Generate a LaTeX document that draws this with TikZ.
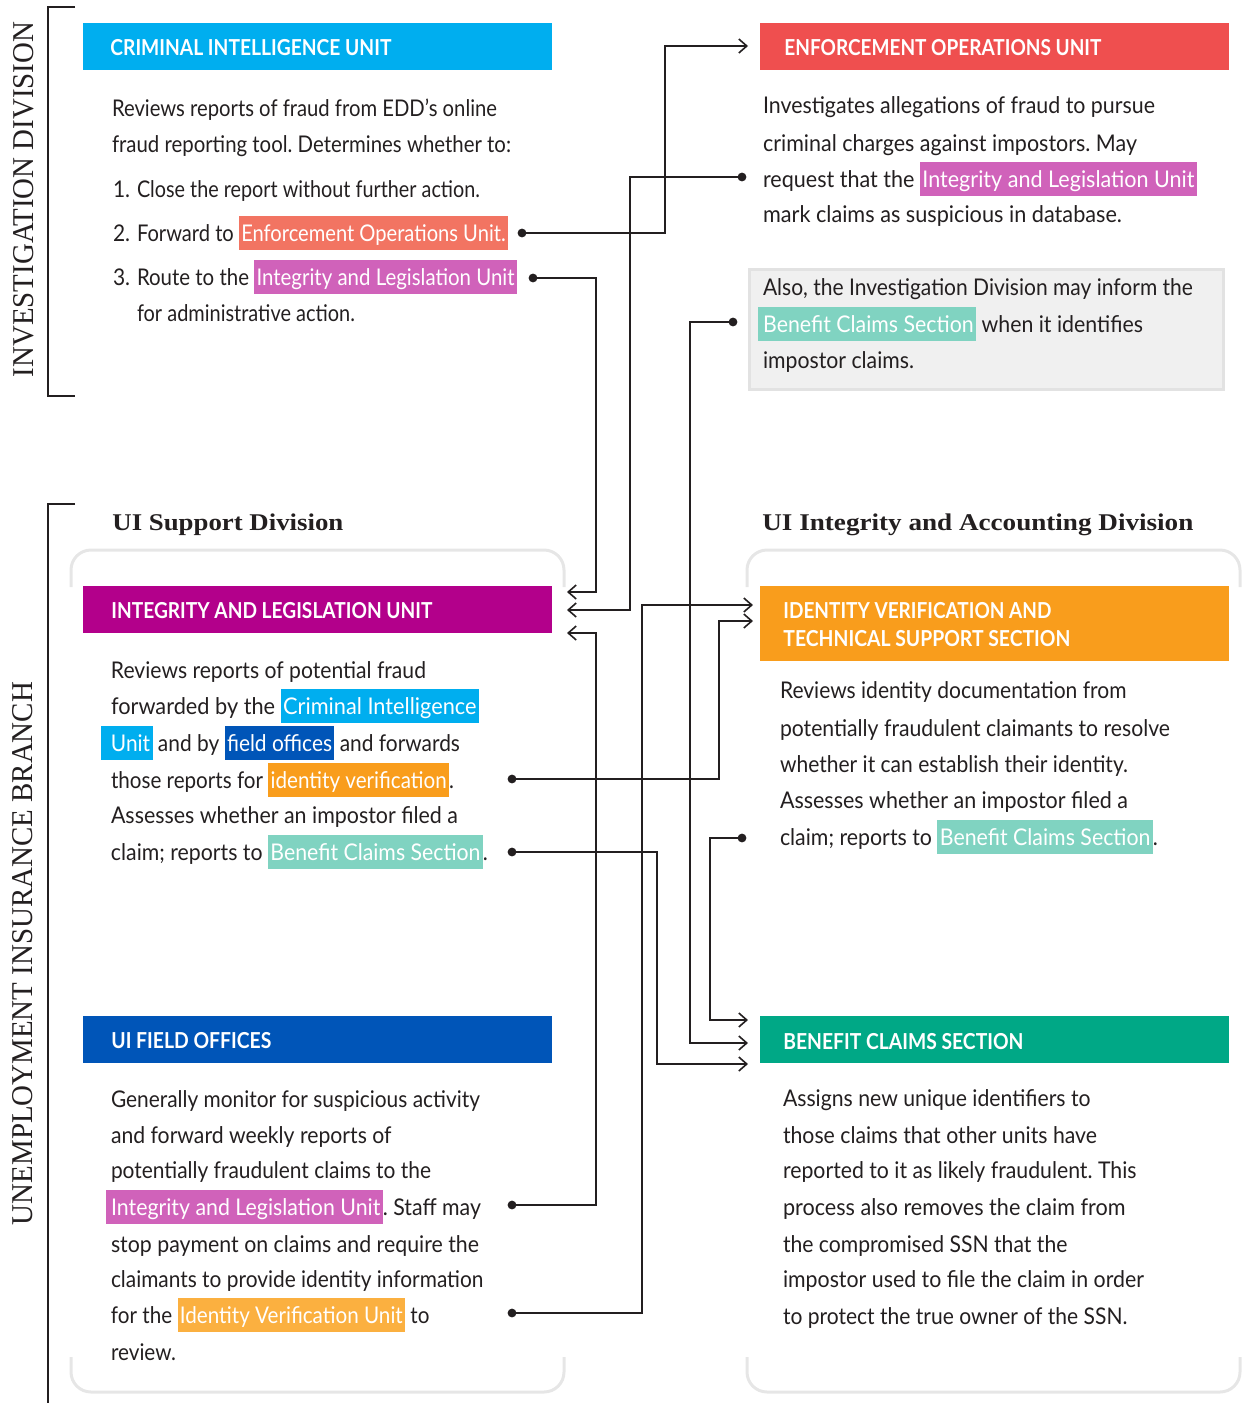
\documentclass[tikz,border=0pt]{standalone}
\usepackage{fontspec}
\usepackage{graphicx}
\usetikzlibrary{arrows.meta}
\newfontfamily\bodyfont[FakeStretch=0.91]{Lato}
\newfontfamily\headfont[FakeStretch=0.87]{Lato}
\newfontfamily\serifttl[FakeStretch=1.13]{Liberation Serif}
\newfontfamily\seriflbl{Liberation Serif}
\definecolor{ink}{HTML}{231F20}
\definecolor{cciu}{HTML}{00AEEF}
\definecolor{ceou}{HTML}{EF4F4F}
\definecolor{cilu}{HTML}{B3008B}
\definecolor{civs}{HTML}{F99D1C}
\definecolor{cfo}{HTML}{0055B8}
\definecolor{cbcs}{HTML}{00A886}
\definecolor{hlred}{HTML}{F27462}
\definecolor{hlmag}{HTML}{D062BA}
\definecolor{hlcyan}{HTML}{00AEEF}
\definecolor{hlblue}{HTML}{0055B8}
\definecolor{hlorange}{HTML}{F99D1C}
\definecolor{hlorangeb}{HTML}{FBB040}
\definecolor{hlmint}{HTML}{80D3C1}
\definecolor{graybr}{HTML}{E6E6E6}
\definecolor{alsofill}{HTML}{F0F0F0}
\definecolor{alsodraw}{HTML}{E2E2E2}
\newcommand\hl[3][1.2pt]{\begingroup\setlength{\fboxsep}{0pt}\colorbox{#2}{\rule[-4.5pt]{0pt}{17pt}\kern#1\textcolor{white}{#3}\kern1.2pt}\endgroup}
\newcommand\fitw[2]{\resizebox{#1}{\height}{#2}}
\begin{document}
\frenchspacing
\begin{tikzpicture}[x=0.5pt,y=-0.5pt,
  txt/.style={anchor=base west, inner sep=0pt, outer sep=0pt, text=ink, font=\bodyfont\fontsize{11.5}{14}\selectfont},
  hdrbox/.style={anchor=north west, inner sep=0pt, outer sep=0pt, minimum width=234.5pt, minimum height=23.5pt},
  hdrtxt/.style={anchor=base west, inner sep=0pt, text=white, font=\headfont\bfseries\fontsize{11}{14}\selectfont},
  divttl/.style={anchor=base west, inner sep=0pt, text=ink, font=\serifttl\bfseries\fontsize{12}{14}\selectfont},
  sidelbl/.style={rotate=90, inner sep=0pt, text=ink, font=\seriflbl},
  conn/.style={draw=ink, line width=0.8pt, -{Straight Barb[length=4pt,width=7pt]}},
  dotc/.style={fill=ink},
  grayb/.style={draw=graybr, line width=1.5pt, rounded corners=10pt},
  blackb/.style={draw=ink, line width=0.9pt}]
\useasboundingbox (0,0) rectangle (1246,1403);

% ---- side brackets and labels
\draw[blackb] (75,7) -- (48,7) -- (48,396) -- (75,396);
\draw[blackb] (75,504) -- (48,504) -- (48,1403);
\node[sidelbl] (lblinv) at (23.5,199.5) {\resizebox{177.5pt}{10pt}{INVESTIGATION DIVISION}};
\node[sidelbl] (lbluib) at (23,953.5) {\resizebox{271.5pt}{10pt}{UNEMPLOYMENT INSURANCE BRANCH}};

% ---- gray division brackets
\draw[grayb] (71,587) |- (564,550) -- (564,587);
\draw[grayb] (71,1357) |- (564,1392) -- (564,1357);
\draw[grayb] (747,587) |- (1240,550) -- (1240,587);
\draw[grayb] (747,1357) |- (1240,1392) -- (1240,1357);
\node[divttl] (ttlsup) at (112,530) {\fitw{115.5pt}{UI Support Division}};
\node[divttl] (ttlint) at (762,530) {\fitw{215.5pt}{UI Integrity and Accounting Division}};

% ---- headers
\node[hdrbox, fill=cciu] (ciuH) at (83,23) {};
\node[hdrtxt] (ciuT) at (110,55) {\fitw{140.5pt}{CRIMINAL INTELLIGENCE UNIT}};
\node[hdrbox, fill=ceou] (eouH) at (760,23) {};
\node[hdrtxt] (eouT) at (784,55) {\fitw{158.5pt}{ENFORCEMENT OPERATIONS UNIT}};
\node[hdrbox, fill=cilu] (iluH) at (83,586) {};
\node[hdrtxt] (iluT) at (111,618) {\fitw{160.5pt}{INTEGRITY AND LEGISLATION UNIT}};
\node[hdrbox, fill=civs, minimum height=37.5pt] (ivsH) at (760,586) {};
\node[hdrtxt] (ivsT1) at (783,618) {\fitw{134pt}{IDENTITY VERIFICATION AND}};
\node[hdrtxt] (ivsT2) at (783,646) {\fitw{143.5pt}{TECHNICAL SUPPORT SECTION}};
\node[hdrbox, fill=cfo] (foH) at (83,1016) {};
\node[hdrtxt] (foT) at (111,1048) {\fitw{80pt}{UI FIELD OFFICES}};
\node[hdrbox, fill=cbcs] (bcsH) at (760,1016) {};
\node[hdrtxt] (bcsT) at (783,1049) {\fitw{120pt}{BENEFIT CLAIMS SECTION}};

% ---- Also box
\node[anchor=north west, fill=alsofill, draw=alsodraw, line width=1.5pt, minimum width=237pt, minimum height=60pt, inner sep=0pt] (alsoBox) at (748,268) {};

% ---- CIU body
\node[txt] (ciu1) at (112,116) {\fitw{192.5pt}{Reviews reports of fraud from EDD’s online}};
\node[txt] (ciu2) at (112,152) {\fitw{199.5pt}{fraud reporting tool. Determines whether to:}};
\node[txt] (ciu3) at (113,197) {\makebox[12pt][l]{1.}\fitw{171.5pt}{Close the report without further action.}};
\node[txt] (ciu4) at (113,241) {\makebox[12pt][l]{2.}\fitw{185.5pt}{Forward to \hl{hlred}{Enforcement Operations Unit.}}};
\node[txt] (ciu5) at (113,285) {\makebox[12pt][l]{3.}\fitw{190pt}{Route to the \hl{hlmag}{Integrity and Legislation Unit}}};
\node[txt] (ciu6) at (137,321) {\fitw{109pt}{for administrative action.}};

% ---- EOU body
\node[txt] (eou1) at (763,113) {\fitw{196pt}{Investigates allegations of fraud to pursue}};
\node[txt] (eou2) at (763,151) {\fitw{187pt}{criminal charges against impostors. May}};
\node[txt] (eou3) at (763,187) {\fitw{217pt}{request that the \hl{hlmag}{Integrity and Legislation Unit}}};
\node[txt] (eou4) at (763,222) {\fitw{179.5pt}{mark claims as suspicious in database.}};

% ---- Also text
\node[txt] (also1) at (763,295) {\fitw{215pt}{Also, the Investigation Division may inform the}};
\node[txt] (also2) at (758,332) {\fitw{192.5pt}{\hl[2.5pt]{hlmint}{Benefit Claims Section} when it identifies}};
\node[txt] (also3) at (763,368) {\fitw{75.5pt}{impostor claims.}};

% ---- ILU body
\node[txt] (ilu1) at (111,678) {\fitw{157.5pt}{Reviews reports of potential fraud}};
\node[txt] (ilu2) at (111,714) {\fitw{184pt}{forwarded by the \hl{hlcyan}{Criminal Intelligence}}};
\node[txt] (ilu3) at (101,751) {\fitw{179.5pt}{\hl[5pt]{hlcyan}{Unit} and by \hl{hlblue}{field offices} and forwards}};
\node[txt] (ilu4) at (111,788) {\fitw{171.5pt}{those reports for \hl{hlorange}{identity verification}.}};
\node[txt] (ilu5) at (111,823) {\fitw{173.5pt}{Assesses whether an impostor filed a}};
\node[txt] (ilu6) at (111,860) {\fitw{188.5pt}{claim; reports to \hl{hlmint}{Benefit Claims Section}.}};

% ---- IVS body
\node[txt] (ivs1) at (780,698) {\fitw{173.25pt}{Reviews identity documentation from}};
\node[txt] (ivs2) at (780,736) {\fitw{195pt}{potentially fraudulent claimants to resolve}};
\node[txt] (ivs3) at (780,772) {\fitw{174pt}{whether it can establish their identity.}};
\node[txt] (ivs4) at (780,808) {\fitw{174pt}{Assesses whether an impostor filed a}};
\node[txt] (ivs5) at (780,845) {\fitw{189pt}{claim; reports to \hl{hlmint}{Benefit Claims Section}.}};

% ---- Field offices body
\node[txt] (fo1) at (111,1107) {\fitw{184.5pt}{Generally monitor for suspicious activity}};
\node[txt] (fo2) at (111,1143) {\fitw{140.25pt}{and forward weekly reports of}};
\node[txt] (fo3) at (111,1178) {\fitw{160pt}{potentially fraudulent claims to the}};
\node[txt] (fo4) at (106,1215) {\fitw{187.5pt}{\hl[2.5pt]{hlmag}{Integrity and Legislation Unit}. Staff may}};
\node[txt] (fo5) at (111,1252) {\fitw{184pt}{stop payment on claims and require the}};
\node[txt] (fo6) at (111,1287) {\fitw{186.25pt}{claimants to provide identity information}};
\node[txt] (fo7) at (111,1323) {\fitw{159.25pt}{for the \hl{hlorangeb}{Identity Verification Unit} to}};
\node[txt] (fo8) at (111,1360) {\fitw{32.5pt}{review.}};

% ---- BCS body
\node[txt] (bcs1) at (783,1106) {\fitw{153.8pt}{Assigns new unique identifiers to}};
\node[txt] (bcs2) at (783,1143) {\fitw{157pt}{those claims that other units have}};
\node[txt] (bcs3) at (783,1178) {\fitw{176.75pt}{reported to it as likely fraudulent. This}};
\node[txt] (bcs4) at (783,1215) {\fitw{171.3pt}{process also removes the claim from}};
\node[txt] (bcs5) at (783,1252) {\fitw{142.2pt}{the compromised SSN that the}};
\node[txt] (bcs6) at (783,1287) {\fitw{180.5pt}{impostor used to file the claim in order}};
\node[txt] (bcs7) at (783,1324) {\fitw{172.2pt}{to protect the true owner of the SSN.}};

% ---- connector end points
\coordinate (dCiuEou) at (522,233);
\coordinate (dCiuIlu) at (533,278);
\coordinate (dEou) at (742,177);
\coordinate (dAlso) at (733,322);
\coordinate (dIluIvs) at (512,779);
\coordinate (dIluBcs) at (512,852);
\coordinate (dIvs) at (742,838);
\coordinate (dFoIlu) at (512,1205);
\coordinate (dFoIvs) at (512,1313);
\coordinate (aEou) at (748,46);
\coordinate (aIlu1) at (567,592);
\coordinate (aIlu2) at (567,610);
\coordinate (aIlu3) at (567,633);
\coordinate (aIvs1) at (753,605);
\coordinate (aIvs2) at (753,621);
\coordinate (aBcs1) at (748,1020);
\coordinate (aBcs2) at (748,1043);
\coordinate (aBcs3) at (748,1064);

% ---- connectors
\draw[conn] (dCiuEou) -| (665,46) -- (aEou);
\draw[conn] (dCiuIlu) -| (596,592) -- (aIlu1);
\draw[conn] (dEou) -| (630,610) -- (aIlu2);
\draw[conn] (dFoIlu) -| (596,633) -- (aIlu3);
\draw[conn] (dFoIvs) -| (642,605) -- (aIvs1);
\draw[conn] (dIluIvs) -| (719,621) -- (aIvs2);
\draw[conn] (dIvs) -| (710,1020) -- (aBcs1);
\draw[conn] (dAlso) -| (690,1043) -- (aBcs2);
\draw[conn] (dIluBcs) -| (657,1064) -- (aBcs3);

% ---- dots
\foreach \d in {dCiuEou,dCiuIlu,dEou,dAlso,dIluIvs,dIluBcs,dIvs,dFoIlu,dFoIvs}
  \fill[dotc] (\d) circle[radius=2.2pt];
\end{tikzpicture}
\end{document}
